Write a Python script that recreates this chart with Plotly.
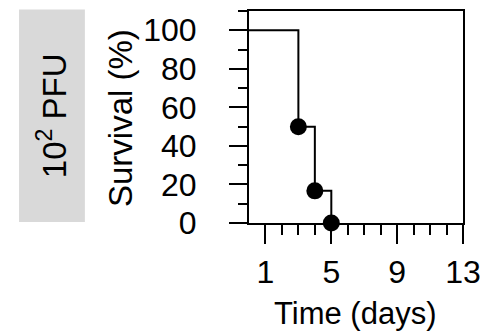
import plotly.graph_objects as go

# Data
times = [0, 3, 4, 5]
survival = [100, 50, 16.67, 0]
event_times = [3, 4, 5]
event_survival = [50, 16.67, 0]
x_ticks = [1, 5, 9, 13]
x_minor = [2, 3, 4, 6, 7, 8, 10, 11, 12]
y_ticks = [0, 20, 40, 60, 80, 100]
y_minor = [10, 30, 50, 70, 90, 110]
group_label = "10<sup>2</sup> PFU"

W, H = 484, 332
# plot area in pixels
L, R, T, B = 248.5, 463, 10.5, 223
FONT = "Liberation Sans, Arial, sans-serif"

def px(x):
    return (x - L) / (R - L)

def py(y):
    return (B - y) / (B - T)

fig = go.Figure()
fig.add_trace(go.Scatter(x=times, y=survival, mode="lines", line=dict(shape="hv", color="black", width=2),
                         cliponaxis=False, showlegend=False, hoverinfo="skip"))
fig.add_trace(go.Scatter(x=event_times, y=event_survival, mode="markers",
                         marker=dict(color="black", size=17), cliponaxis=False, showlegend=False))

ann = dict(xref="paper", yref="paper", showarrow=False, xanchor="center", yanchor="middle")

fig.update_layout(
    width=W, height=H,
    margin=dict(l=L, r=W - R, t=T, b=H - B, pad=0, autoexpand=False),
    paper_bgcolor="white", plot_bgcolor="white",
    font=dict(family=FONT, size=31, color="black"),
    xaxis=dict(range=[0, 13], tickvals=x_ticks, ticks="outside", ticklen=19, tickwidth=2,
               tickcolor="black", showline=True, linewidth=2, linecolor="black", mirror=True,
               showgrid=False, zeroline=False, ticklabelstandoff=1, automargin=False,
               ticklabeloverflow="allow",
               minor=dict(tickvals=x_minor, ticks="outside", ticklen=10,
                          tickwidth=2, tickcolor="black", showgrid=False),
               tickfont=dict(size=32)),
    yaxis=dict(range=[0, 110], tickvals=y_ticks, ticks="outside", ticklen=18, tickwidth=2,
               tickcolor="black", showline=True, linewidth=2, linecolor="black", mirror=True,
               showgrid=False, zeroline=False, ticklabelstandoff=26, automargin=False,
               minor=dict(tickvals=y_minor, ticks="outside", ticklen=9,
                          tickwidth=2, tickcolor="black", showgrid=False),
               tickfont=dict(size=32)),
    shapes=[dict(type="rect", xref="paper", yref="paper", x0=px(18), x1=px(84), y0=py(222), y1=py(9),
                 fillcolor="#d9d9d9", line=dict(width=0), layer="below")],
    annotations=[
        dict(text=group_label, x=px(51), y=py(115), textangle=-90,
             font=dict(size=33, family=FONT, color="black"), **ann),
        dict(text="Survival (%)", x=px(119), y=py(118), textangle=-90,
             font=dict(size=33, family=FONT, color="black"), **ann),
        dict(text="Time (days)", x=px(355), y=py(314),
             font=dict(size=31, family=FONT, color="black"), **ann),
    ],
)

fig.write_html("out.html", config={"displayModeBar": False},
               post_script="document.body.style.margin='0';")
